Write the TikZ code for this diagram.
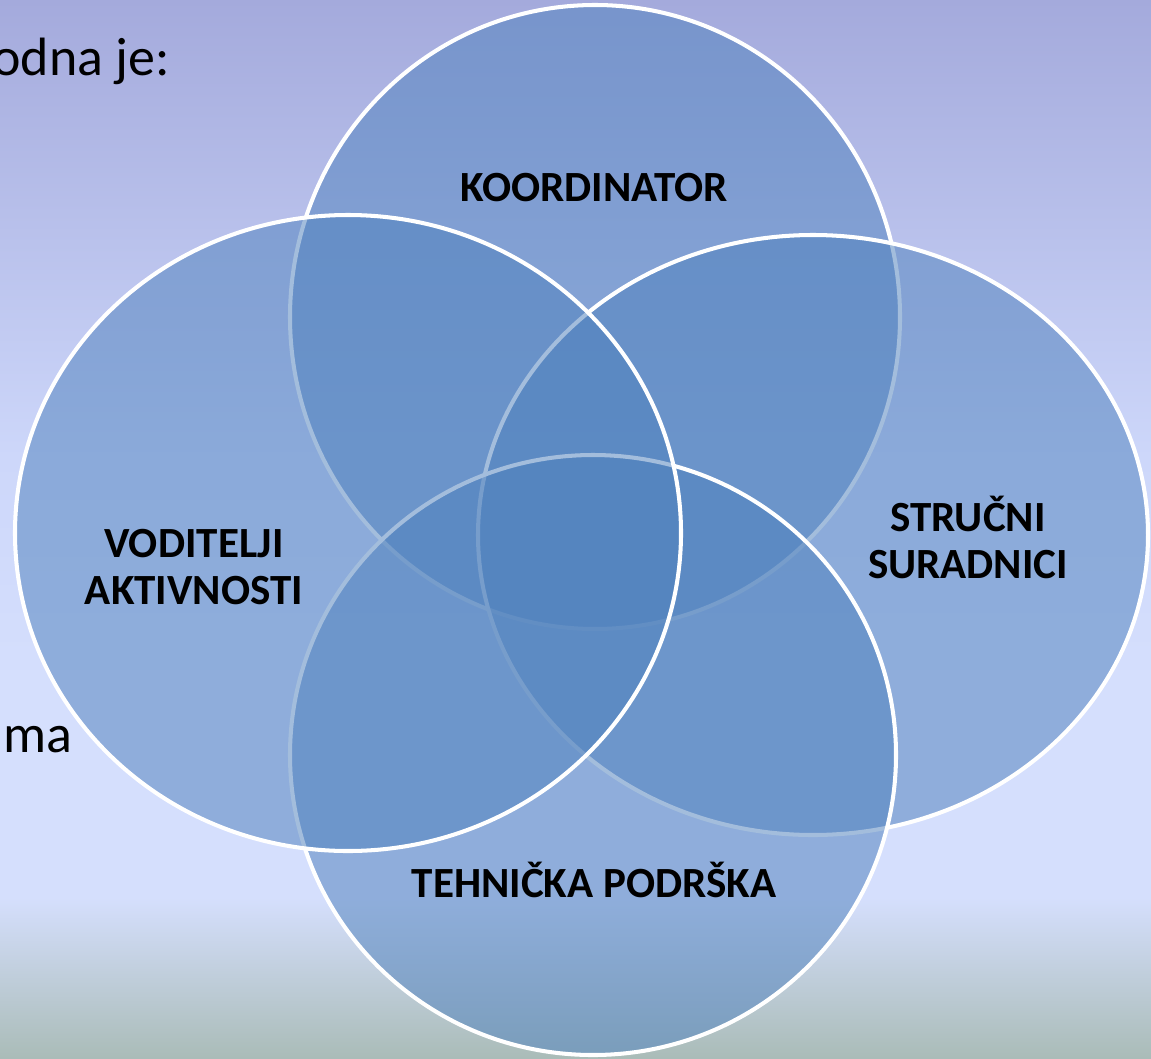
\documentclass[tikz,border=0pt]{standalone}
\usepackage{fontspec}
\setmainfont{Carlito}
\usetikzlibrary{positioning}

\definecolor{bgTop}{RGB}{164,170,220}
\definecolor{bgMid}{RGB}{205,215,250}
\definecolor{bgLight}{RGB}{213,223,253}
\definecolor{bgLow}{RGB}{170,188,184}
\definecolor{vennBlue}{RGB}{79,129,189}

\pgfdeclareverticalshading{slidebg}{100bp}{color(0bp)=(bgLow); color(25bp)=(bgLow);
  color(32.6bp)=(bgLight); color(42.7bp)=(bgLight); color(53.4bp)=(bgMid);
  color(75bp)=(bgTop); color(100bp)=(bgTop)}

\tikzset{
  venn/.style={fill=vennBlue, fill opacity=0.52, draw=white, line width=2.3pt},
  vennlabel/.style={font=\bfseries\fontsize{24.5}{26.8}\selectfont, align=center, inner sep=0pt},
  slidetext/.style={font=\fontsize{30.7}{36}\selectfont, inner sep=0pt, anchor=base east}
}

\begin{document}
\begin{tikzpicture}[x=0.02cm, y=-0.02cm]
        \clip (0,0) rectangle (1151,1058);
        \shade [shading=slidebg] (0,0) rectangle (1151,1058);
        \node [slidetext] (introA) at (170,75) {odna je:};
        \node [slidetext] (introB) at (73,752) {ma};
        \draw [venn] (595,317) ellipse [x radius=305, y radius=312];
        \draw [venn] (813,535) ellipse [x radius=335, y radius=300];
        \draw [venn] (593,755) ellipse [x radius=303, y radius=300];
        \draw [venn] (348,533) ellipse [x radius=333, y radius=318];
        \node [vennlabel] (koord) at (594,188) {KOORDINATOR};
        \node [vennlabel] (strucni) at (968,537) {STRUČNI\\SURADNICI};
        \node [vennlabel] (tehn) at (594,880) {TEHNIČKA PODRŠKA};
        \node [vennlabel] (vodit) at (194,567) {VODITELJI\\AKTIVNOSTI};
\end{tikzpicture}
\end{document}
